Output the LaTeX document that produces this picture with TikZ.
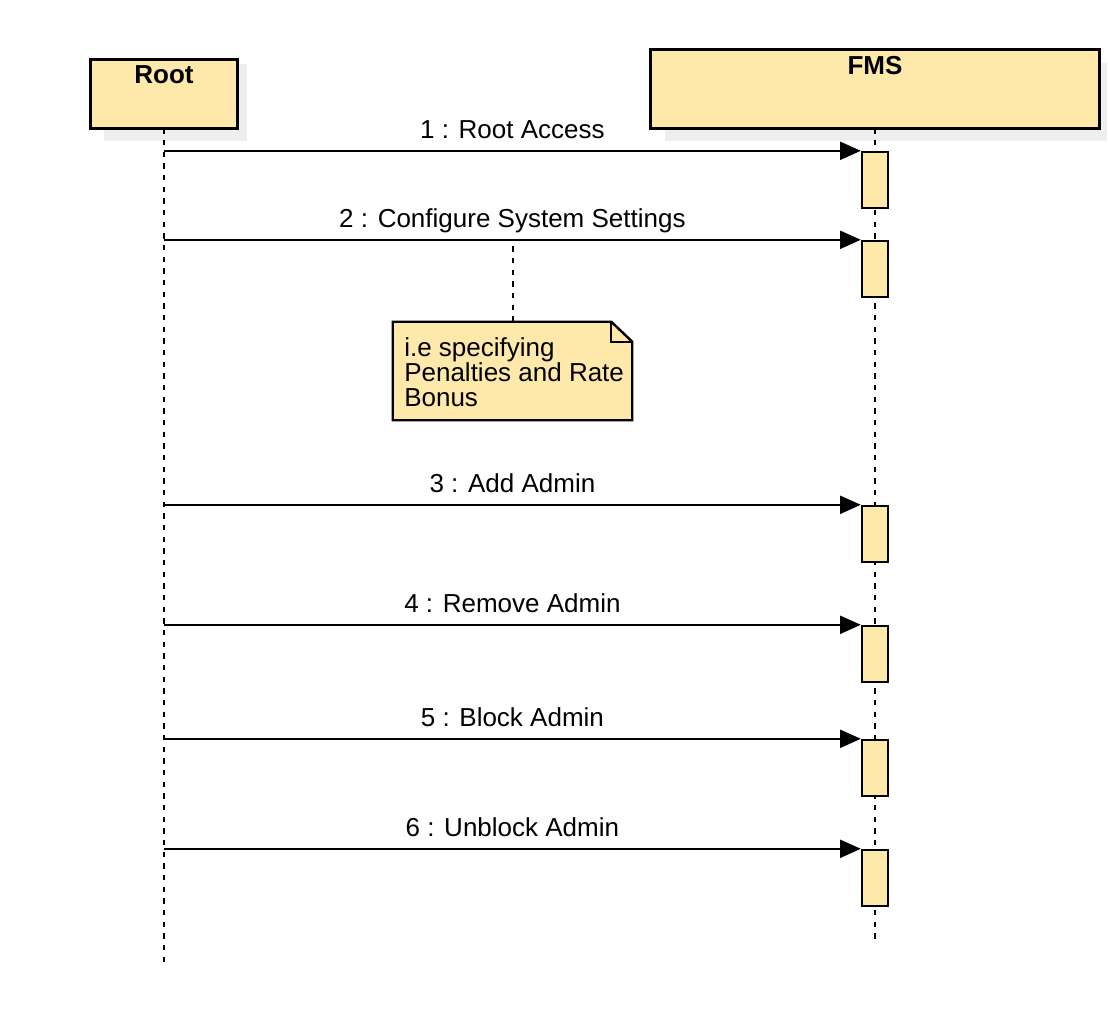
\documentclass[tikz,border=0pt]{standalone}
\usepackage{fontspec}
\setmainfont{Liberation Sans}
\usetikzlibrary{arrows.meta}
\definecolor{boxfill}{RGB}{255,233,170}
\definecolor{shadowgray}{RGB}{238,238,238}

\begin{document}
\begin{tikzpicture}[x=0.75pt,y=-0.75pt]
\tikzstyle{every node}+=[inner sep=0pt]
\tikzstyle{lifebox}=[draw=black, line width=2pt, fill=boxfill]
\tikzstyle{actbox}=[draw=black, line width=1.8pt, fill=boxfill, minimum width=19.5pt, minimum height=42pt]
\tikzstyle{lifeline}=[black, line width=1.5pt, dash pattern=on 4pt off 4.75pt]
\tikzstyle{msg}=[black, line width=1.5pt, -{Triangle[length=15.5pt,width=13.5pt]}]
\tikzstyle{msglabel}=[anchor=base, yshift=9pt, font=\fontsize{19.5}{23}\selectfont]
\tikzstyle{headlabel}=[anchor=north, yshift=-4.5pt, font=\fontsize{19.5}{23}\selectfont\bfseries]
\useasboundingbox[fill=white] (0,0) rectangle (1108,1020);
% participants
\node[minimum width=109.5pt, minimum height=51pt] (root) at (164,94) {};
\node[minimum width=336pt, minimum height=58.5pt] (fms) at (875,89) {};
\fill[shadowgray] ([xshift=9.75pt,yshift=-3pt]root.north west) rectangle ([xshift=7.5pt,yshift=-9.75pt]root.south east);
\fill[shadowgray] ([xshift=10.5pt,yshift=-9.75pt]fms.north west) rectangle ([xshift=6pt,yshift=-9.75pt]fms.south east);
\draw[lifebox] (root.north west) rectangle (root.south east);
\draw[lifebox] (fms.north west) rectangle (fms.south east);
\node[headlabel] (rootlbl) at (root.north) {Root};
\node[headlabel] (fmslbl) at (fms.north) {FMS};
% lifelines
\coordinate (rootend) at (164,965);
\coordinate (fmsend) at (875,940);
\draw[lifeline] (root.south) -- (rootend);
\draw[lifeline] (fms.south) -- (fmsend);
% activations
\node[actbox] (act1) at (875,180) {};
\node[actbox] (act2) at (875,269) {};
\node[actbox] (act3) at (875,534) {};
\node[actbox] (act4) at (875,654) {};
\node[actbox] (act5) at (875,768) {};
\node[actbox] (act6) at (875,878) {};
% messages
\draw[msg] (root |- act1.north west) -- (act1.north west) node[msglabel, midway] (msg1) {1 : Root Access};
\draw[msg] (root |- act2.north west) -- (act2.north west) node[msglabel, midway] (msg2) {2 : Configure System Settings};
\draw[msg] (root |- act3.north west) -- (act3.north west) node[msglabel, midway] (msg3) {3 : Add Admin};
\draw[msg] (root |- act4.north west) -- (act4.north west) node[msglabel, midway] (msg4) {4 : Remove Admin};
\draw[msg] (root |- act5.north west) -- (act5.north west) node[msglabel, midway] (msg5) {5 : Block Admin};
\draw[msg] (root |- act6.north west) -- (act6.north west) node[msglabel, midway] (msg6) {6 : Unblock Admin};
% note
\node[minimum width=179.25pt, minimum height=73.5pt] (note) at (512.5,371) {};
\draw[lifebox, line width=1.8pt] (note.north west) -- ([xshift=-15.75pt]note.north east) -- ([yshift=-15pt]note.north east) -- (note.south east) -- (note.south west) -- cycle;
\draw[line width=1.8pt] ([xshift=-15.75pt]note.north east) -- ([xshift=-15.75pt,yshift=-15pt]note.north east) -- ([yshift=-15pt]note.north east);
\node[anchor=north west, align=left, font=\fontsize{19.5}{18.75}\selectfont] (notetxt) at (404,337) {i.e specifying\\Penalties and Rate\\Bonus};
\draw[lifeline] (note.north) -- (note.north |- act2.north west);
\end{tikzpicture}
\end{document}
